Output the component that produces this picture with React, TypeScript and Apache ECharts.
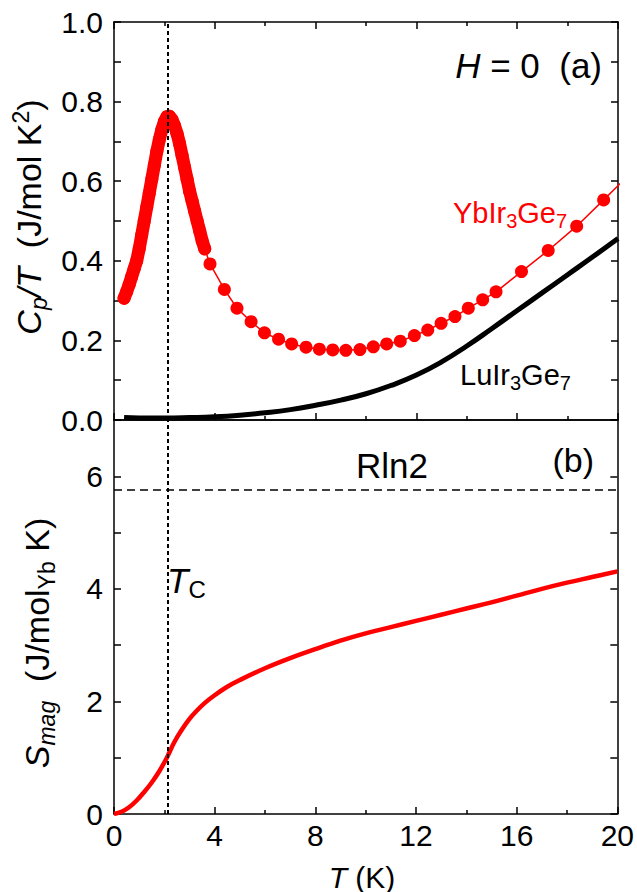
import React, { useEffect, useRef } from "react";
import * as echarts from "echarts";

// ---- data ----
const TC = 2.15;
const RLN2 = 5.763;

// dense measurement region (0.4 – 3.6 K)
const ybDenseT = [
  0.4, 0.5, 0.6, 0.7, 0.8, 0.9, 1.0, 1.1, 1.2, 1.3, 1.4, 1.5, 1.6, 1.7, 1.8, 1.9, 2.0, 2.1,
  2.2, 2.3, 2.4, 2.5, 2.6, 2.7, 2.8, 2.9, 3.0, 3.1, 3.2, 3.3, 3.4, 3.5, 3.6,
];
const ybDenseCpT = [
  0.306, 0.322, 0.34, 0.36, 0.38, 0.4, 0.43, 0.465, 0.5, 0.535, 0.57, 0.605, 0.64, 0.675, 0.705, 0.73, 0.75, 0.762,
  0.763, 0.755, 0.74, 0.72, 0.695, 0.665, 0.635, 0.605, 0.575, 0.55, 0.525, 0.5, 0.475, 0.45, 0.43,
];
// sparse region
const ybSparseT = [
  3.81, 4.38, 4.88, 5.44, 5.97, 6.53, 7.05, 7.62, 8.15, 8.68, 9.2, 9.76, 10.29, 10.82,
  11.36, 11.92, 12.45, 12.98, 13.53, 14.06, 14.63, 15.16, 16.17, 17.23, 18.36, 19.43, 20.5,
];
const ybSparseCpT = [
  0.392, 0.328, 0.281, 0.247, 0.219, 0.203, 0.191, 0.183, 0.178, 0.176, 0.175, 0.177, 0.184, 0.191,
  0.198, 0.212, 0.226, 0.243, 0.26, 0.281, 0.302, 0.322, 0.373, 0.426, 0.487, 0.553, 0.62,
];

const luT = [0.4, 1, 2, 3, 4, 5, 6, 7, 8, 9, 10, 11, 12, 13, 14, 15, 16, 17, 18, 19, 20];
const luCpT = [
  0.006, 0.005, 0.005, 0.006, 0.008, 0.012, 0.018, 0.026, 0.037, 0.05, 0.066, 0.087, 0.113,
  0.146, 0.186, 0.23, 0.275, 0.32, 0.365, 0.41, 0.456,
];

const sT = [
  0, 0.3, 0.6, 0.9, 1.2, 1.5, 1.8, 2.1, 2.4, 2.7, 3.0, 3.3, 3.6, 4, 4.5, 5, 6, 7, 8, 9, 10, 11,
  12, 13, 14, 15, 16, 17, 18, 19, 20,
];
const sMag = [
  0, 0.04, 0.12, 0.24, 0.39, 0.56, 0.76, 1.0, 1.28, 1.5, 1.69, 1.84, 1.97, 2.11, 2.26, 2.38,
  2.59, 2.77, 2.93, 3.08, 3.21, 3.32, 3.43, 3.54, 3.65, 3.76, 3.88, 4.0, 4.11, 4.21, 4.31,
];

const FF = "'Liberation Sans', Arial, sans-serif";
const f = (size: number, italic = false) => `${italic ? "italic " : ""}${size}px ${FF}`;

const zip = (a: number[], b: number[]) => a.map((v, i) => [v, b[i]]);

export default function App() {
  const ref = useRef<HTMLDivElement>(null);
  useEffect(() => {
    const chart = echarts.init(ref.current!, null, { renderer: "svg" });
    const line = { lineStyle: { color: "#000", width: 1.5 } };
    const tick = { inside: true, length: 7, lineStyle: { color: "#000", width: 1.5 } };
    const minor = { show: true, splitNumber: 2, length: 4, lineStyle: { color: "#000", width: 1.5 } };
    const xBase = {
      type: "value",
      min: 0,
      max: 20,
      interval: 4,
      axisLine: { show: true, onZero: false, ...line },
      axisTick: tick,
      minorTick: minor,
      splitLine: { show: false },
      minorSplitLine: { show: false },
      axisLabel: { show: false },
    };
    const labelStyle = { color: "#000", fontSize: 30, fontFamily: FF };
    const tcStyle = { color: "#000", type: [4, 3], width: 2 };
    const rich = (size: number, color = "#000") => ({
      n: { font: f(size), fill: color },
      i: { font: f(size, true), fill: color },
      sub: { font: f(Math.round(size * 0.68)), fill: color, padding: [Math.round(size * 0.55), 0, 0, 0] },
      isub: { font: f(Math.round(size * 0.68), true), fill: color, padding: [Math.round(size * 0.55), 0, 0, 0] },
      sup: { font: f(Math.round(size * 0.68)), fill: color, padding: [0, 0, Math.round(size * 0.5), 0] },
    });
    const txt = (x: number, y: number, text: string, size: number, align: string, color = "#000", rotation = 0) => ({
      type: "text",
      x,
      y,
      rotation,
      z: 100,
      style: { text, rich: rich(size, color), font: f(size), fill: color, align, verticalAlign: "middle" },
    });
    const yAx = (grid: number, pos: string, max: number, interval: number, labels: any) => ({
      type: "value",
      gridIndex: grid,
      position: pos,
      min: 0,
      max,
      interval,
      axisLine: { show: true, onZero: false, ...line },
      axisTick: tick,
      splitLine: { show: false },
      axisLabel: labels,
    });

    chart.setOption({
      animation: false,
      backgroundColor: "#fff",
      grid: [
        { left: 114, top: 22, width: 504, height: 398 },
        { left: 114, top: 420, width: 504, height: 394 },
      ],
      xAxis: [
        { ...xBase, gridIndex: 0, position: "bottom" },
        { ...xBase, gridIndex: 0, position: "top" },
        {
          ...xBase,
          gridIndex: 1,
          position: "bottom",
          axisLabel: { show: true, margin: 6, ...labelStyle },
        },
        { ...xBase, gridIndex: 1, position: "top", axisTick: { show: false }, minorTick: { show: false } },
      ],
      yAxis: [
        yAx(0, "left", 1, 0.1, {
          show: true,
          margin: 11,
          ...labelStyle,
          formatter: (v: number) => (Math.round(v * 10) % 2 === 0 ? v.toFixed(1) : ""),
        }),
        yAx(0, "right", 1, 0.1, { show: false }),
        yAx(1, "left", 7, 1, {
          show: true,
          margin: 11,
          ...labelStyle,
          formatter: (v: number) => (Math.round(v) % 2 === 0 && v < 7 ? String(v) : ""),
        }),
        yAx(1, "right", 7, 1, { show: false }),
      ],
      series: [
        {
          name: "LuIr3Ge7",
          type: "line",
          xAxisIndex: 0,
          yAxisIndex: 0,
          data: zip(luT, luCpT),
          smooth: 0.5,
          symbol: "none",
          lineStyle: { color: "#000", width: 5 },
          markLine: {
            silent: true,
            symbol: ["none", "none"],
            label: { show: false },
            lineStyle: tcStyle,
            data: [{ xAxis: TC }],
          },
          z: 2,
        },
        {
          name: "YbIr3Ge7 dense band",
          type: "line",
          xAxisIndex: 0,
          yAxisIndex: 0,
          data: zip(ybDenseT, ybDenseCpT),
          symbol: "none",
          lineStyle: { color: "#ff0000", width: 13, cap: "round", join: "round" },
          z: 3,
        },
        {
          name: "YbIr3Ge7",
          type: "line",
          xAxisIndex: 0,
          yAxisIndex: 0,
          data: zip(ybDenseT.concat(ybSparseT), ybDenseCpT.concat(ybSparseCpT)),
          symbol: "circle",
          symbolSize: 13,
          itemStyle: { color: "#ff0000" },
          lineStyle: { color: "#ff0000", width: 1.5 },
          clip: true,
          z: 4,
        },
        {
          name: "Smag",
          type: "line",
          xAxisIndex: 2,
          yAxisIndex: 2,
          data: zip(sT, sMag),
          smooth: 0.4,
          symbol: "none",
          lineStyle: { color: "#ff0000", width: 4.5 },
          markLine: {
            silent: true,
            symbol: ["none", "none"],
            label: { show: false },
            data: [
              { xAxis: TC, lineStyle: tcStyle },
              { yAxis: RLN2, lineStyle: { color: "#000", type: [8, 5], width: 1.5 } },
            ],
          },
          z: 3,
        },
      ],
      graphic: [
        txt(29, 217, "{i|C}{isub|p}{i|/T}{n|  (J/mol K}{sup|2}{n|)}", 34, "center", "#000", Math.PI / 2),
        txt(37, 643, "{i|S}{isub|mag}{n|  (J/mol}{sub|Yb}{n| K)}", 34, "center", "#000", Math.PI / 2),
        txt(362, 877, "{i|T}{n| (K)}", 30, "center"),
        txt(602, 65, "{i|H}{n| = 0  (a)}", 35, "right"),
        txt(453, 213, "{n|YbIr}{sub|3}{n|Ge}{sub|7}", 29, "left", "#ff0000"),
        txt(460, 375, "{n|LuIr}{sub|3}{n|Ge}{sub|7}", 29, "left"),
        txt(594, 460, "{n|(b)}", 34, "right"),
        txt(356, 465, "{n|Rln2}", 35, "left"),
        txt(167, 580, "{i|T}{sub|C}", 35, "left"),
      ],
    });
    return () => chart.dispose();
  }, []);
  return (
    <div
      ref={ref}
      style={{ position: "fixed", left: 0, top: 0, width: 637, height: 892, background: "#fff" }}
    />
  );
}
